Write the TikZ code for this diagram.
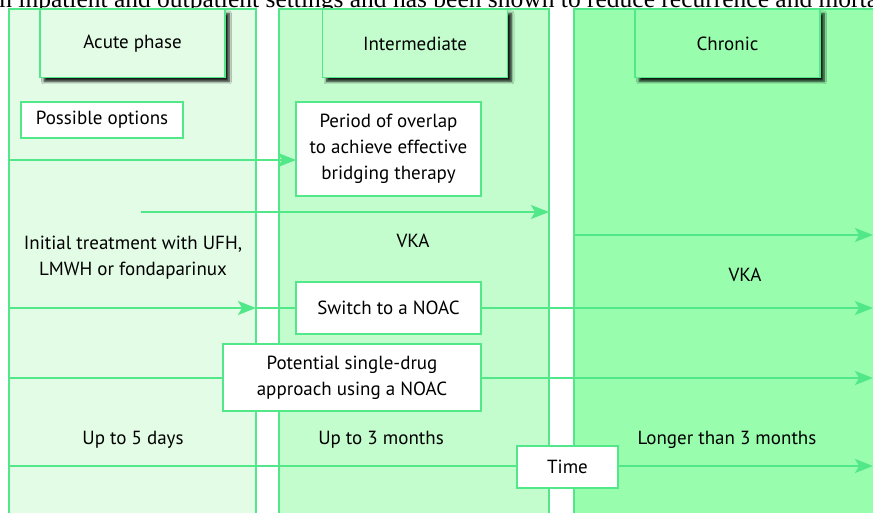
\documentclass[tikz,border=0pt]{standalone}
\usepackage{fontspec}
\setmainfont{PT Sans}
\newfontfamily\runningtext{Liberation Serif}
\usetikzlibrary{arrows.meta,shadows.blur}

\definecolor{edge}{RGB}{82,232,138}
\definecolor{acute}{RGB}{227,252,230}
\definecolor{inter}{RGB}{195,252,205}
\definecolor{chron}{RGB}{152,254,174}

\begin{document}
\begin{tikzpicture}[x=1pt,y=-1pt,
  font=\fontsize{19}{26}\selectfont,
  column/.style={draw=edge, line width=1.6pt, anchor=north west,
    minimum height=560pt, inner sep=0pt, outer sep=0pt},
  header/.style={draw=edge, line width=1.6pt, minimum width=185pt,
    minimum height=68pt, inner sep=0pt, outer sep=0pt,
    blur shadow={shadow xshift=4pt, shadow yshift=-4pt,
      shadow blur radius=2.5pt, shadow blur steps=6, shadow opacity=90}},
  note/.style={draw=edge, line width=1.6pt, fill=white, align=center,
    inner sep=0pt, outer sep=0pt},
  label/.style={align=center, inner sep=0pt},
  flow/.style={draw=edge, line width=1.8pt},
  arr/.style={flow, -{Stealth[length=18pt, width=14pt, inset=4pt]}}]

\useasboundingbox (0,0) rectangle (873,513);
\clip (0,0) rectangle (873,513);

% running text of the page above the figure
\node[anchor=base west, inner sep=0pt, font=\runningtext\fontsize{25.5}{30}\selectfont]
  (runline) at (-8,7.5)
  {in inpatient and outpatient settings and has been shown to reduce recurrence and mortality};

% the three phase columns
\node[column, fill=acute, minimum width=247pt] (colA) at (9,9) {};
\node[column, fill=inter, minimum width=270pt] (colB) at (279,9) {};
\node[column, fill=chron, minimum width=320pt] (colC) at (574,9) {};

% phase headers
\node[header, fill=acute] (hA) at (132.5,43.5) {Acute phase};
\node[header, fill=inter] (hB) at (415,43.5) {Intermediate};
\node[header, fill=chron] (hC) at (727.5,43.5) {Chronic};

% boxed notes
\node[note, minimum width=162pt, minimum height=36pt] (opts) at (102,120) {Possible options};
\node[note, minimum width=185pt, minimum height=94pt] (ovl) at (388.5,149)
  {Period of overlap\\to achieve effective\\bridging therapy};
\node[note, minimum width=185pt, minimum height=52pt] (swt) at (388.5,308) {Switch to a NOAC};
\node[note, minimum width=258pt, minimum height=67pt] (pot) at (352,377.5)
  {Potential single-drug\\approach using a NOAC};
\node[note, minimum width=101pt, minimum height=42pt] (time) at (567.5,467) {Time};

% plain labels
\node[label] (init) at (133,258) {Initial treatment with UFH,\\LMWH or fondaparinux};
\node[label] (vkaB) at (413,241) {VKA};
\node[label] (vkaC) at (745,275) {VKA};
\node[label] (durA) at (133,440) {Up to 5 days};
\node[label] (durB) at (381,440) {Up to 3 months};
\node[label] (durC) at (727,440) {Longer than 3 months};

% free ends of the connectors
\coordinate (vkaStart) at (141,212);
\coordinate (rightEdge) at (873,0);

% connectors
\draw[arr] (colA.west |- 0,160) -- (ovl.west |- 0,160);
\draw[arr] (vkaStart) -- (colB.east |- vkaStart);
\draw[arr] (colC.west |- 0,235) -- (rightEdge |- 0,235);
\draw[arr] (colA.west |- swt) -- (colA.east |- swt);
\draw[flow] (colA.east |- swt) -- (swt.west);
\draw[arr] (swt.east) -- (rightEdge |- swt);
\draw[flow] (colA.west |- 0,378) -- (pot.west |- 0,378);
\draw[arr] (pot.east |- 0,378) -- (rightEdge |- 0,378);
\draw[flow] (colA.west |- 0,466) -- (time.west |- 0,466);
\draw[arr] (time.east |- 0,466) -- (rightEdge |- 0,466);
\end{tikzpicture}
\end{document}
